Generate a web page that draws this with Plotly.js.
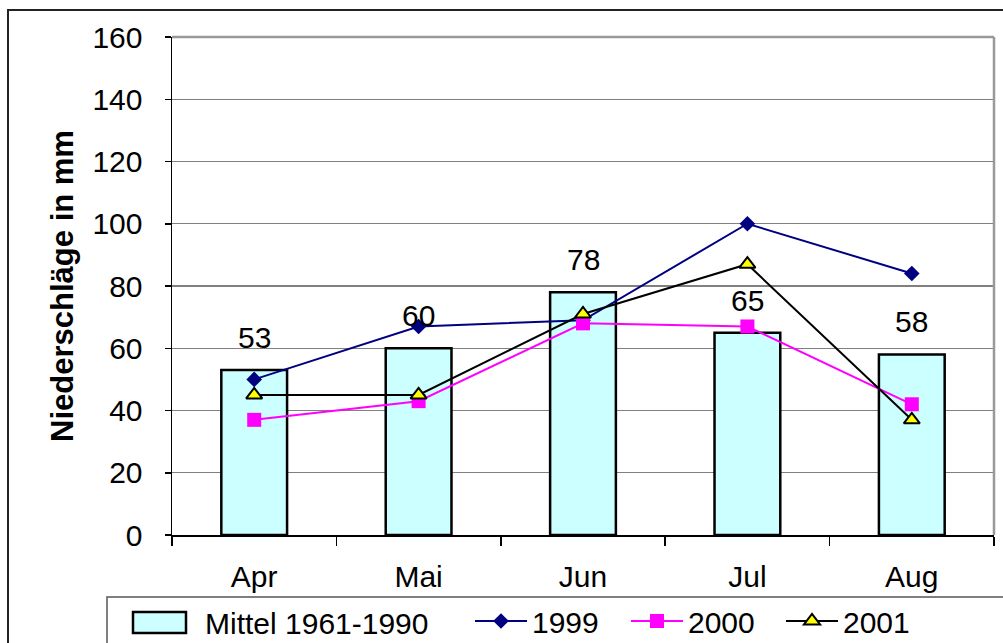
<!DOCTYPE html>
<html>
<head>
<meta charset="utf-8">
<script src="https://cdn.plot.ly/plotly-3.0.1.min.js"></script>
<style>
  html, body { margin: 0; padding: 0; background: #ffffff; }
  #chart { width: 1003px; height: 643px; }
</style>
</head>
<body>
<div id="chart"></div>
<script>
// Monthly precipitation (mm), April to August
const months = ['Apr', 'Mai', 'Jun', 'Jul', 'Aug'];
const mittel = [53, 60, 78, 65, 58];      // long-term mean 1961-1990
const y1999 = [50, 67, 69, 100, 84];
const y2000 = [37, 43, 68, 67, 42];
const y2001 = [45, 45, 71, 87, 37];
const yTicks = [0, 20, 40, 60, 80, 100, 120, 140, 160];

const FONT = 'Liberation Sans, Arial, sans-serif';
const W = 1003, H = 643;
const M = { l: 172, r: 9, t: 37, b: 108 };
const PW = W - M.l - M.r, PH = H - M.t - M.b;
// pixel position -> paper fraction
const px = v => (v - M.l) / PW;
const py = v => (H - M.b - v) / PH;

const traces = [
  {
    type: 'bar', name: 'Mittel 1961-1990', x: months, y: mittel,
    marker: { color: '#CCFFFF', line: { color: '#000000', width: 2.5 } },
    showlegend: false
  },
  {
    type: 'scatter', mode: 'lines+markers', name: '1999', x: months, y: y1999,
    line: { color: '#000080', width: 2 },
    marker: { symbol: 'diamond', size: 12, color: '#000080' },
    legend: 'legend2'
  },
  {
    type: 'scatter', mode: 'lines+markers', name: '2000', x: months, y: y2000,
    line: { color: '#FF00FF', width: 2 },
    marker: { symbol: 'square', size: 14, color: '#FF00FF' },
    legend: 'legend3'
  },
  {
    type: 'scatter', mode: 'lines+markers', name: '2001', x: months, y: y2001,
    line: { color: '#000000', width: 2 },
    marker: { symbol: 'triangle-up', size: 14, color: '#FFFF00', line: { color: '#000000', width: 2 } },
    legend: 'legend4'
  }
];

// value labels above the mean bars
const annotations = months.map((m, i) => ({
  x: m, y: mittel[i], xref: 'x', yref: 'y',
  text: String(mittel[i]), showarrow: false,
  yanchor: 'bottom', yshift: 14,
  font: { family: FONT, size: 30, color: '#000000' }
}));
// legend label for the bar series (its swatch is a shape below)
annotations.push({
  x: px(203), y: py(623), xref: 'paper', yref: 'paper',
  xanchor: 'left', yanchor: 'middle', showarrow: false,
  text: 'Mittel 1961-1990',
  font: { family: FONT, size: 30, color: '#000000' }
});

const legendBase = {
  orientation: 'h', xanchor: 'left', yanchor: 'top', y: py(595),
  bgcolor: 'rgba(0,0,0,0)', borderwidth: 0, itemwidth: 52,
  font: { family: FONT, size: 30, color: '#000000' }
};

const layout = {
  width: W, height: H,
  margin: { l: M.l, r: M.r, t: M.t, b: M.b, pad: 0, autoexpand: false },
  paper_bgcolor: '#ffffff', plot_bgcolor: '#ffffff',
  font: { family: FONT, size: 30, color: '#000000' },
  bargap: 0.6,
  showlegend: true,
  legend2: Object.assign({}, legendBase, { x: px(470) }),
  legend3: Object.assign({}, legendBase, { x: px(626) }),
  legend4: Object.assign({}, legendBase, { x: px(781) }),
  xaxis: {
    type: 'category',
    showline: true, linecolor: '#000000', linewidth: 1.5,
    ticks: 'outside', tickson: 'boundaries', ticklen: 9, tickcolor: '#000000', tickwidth: 1.5,
    ticklabelstandoff: 14,
    tickfont: { family: FONT, size: 30, color: '#000000' },
    showgrid: false, zeroline: false, fixedrange: true
  },
  yaxis: {
    range: [0, 160], tickvals: yTicks, ticktext: yTicks.map(String),
    showline: true, linecolor: '#000000', linewidth: 1.5,
    ticks: 'outside', ticklen: 6, tickcolor: '#000000', tickwidth: 1.5,
    ticklabelstandoff: 16,
    tickfont: { family: FONT, size: 30, color: '#000000' },
    showgrid: true, gridcolor: '#808080', gridwidth: 1.2,
    zeroline: false, fixedrange: true,
    title: { text: 'Niederschläge in mm', standoff: 9,
             font: { family: FONT, size: 31, color: '#000000', weight: 'bold' } }
  },
  annotations: annotations,
  shapes: [
    // chart frame
    { type: 'rect', xref: 'paper', yref: 'paper', x0: px(8), x1: px(1040), y0: py(680), y1: py(10),
      line: { color: '#222222', width: 2 }, fillcolor: 'rgba(0,0,0,0)', layer: 'below' },
    // plot-area border, top and right
    { type: 'line', xref: 'paper', yref: 'paper', x0: 0, x1: 1, y0: 1, y1: 1,
      line: { color: '#999999', width: 2.5 } },
    { type: 'line', xref: 'paper', yref: 'paper', x0: 1, x1: 1, y0: 0, y1: 1,
      line: { color: '#999999', width: 2.5 } },
    // legend frame
    { type: 'rect', xref: 'paper', yref: 'paper', x0: px(107), x1: px(1040), y0: py(680), y1: py(597),
      line: { color: '#555555', width: 1.5 }, fillcolor: 'rgba(0,0,0,0)' },
    // legend swatch for the bar series
    { type: 'rect', xref: 'paper', yref: 'paper', x0: px(133), x1: px(186), y0: py(633), y1: py(612),
      line: { color: '#000000', width: 2.5 }, fillcolor: '#CCFFFF' }
  ]
};

Plotly.newPlot('chart', traces, layout, { displayModeBar: false, staticPlot: true });
</script>
</body>
</html>
